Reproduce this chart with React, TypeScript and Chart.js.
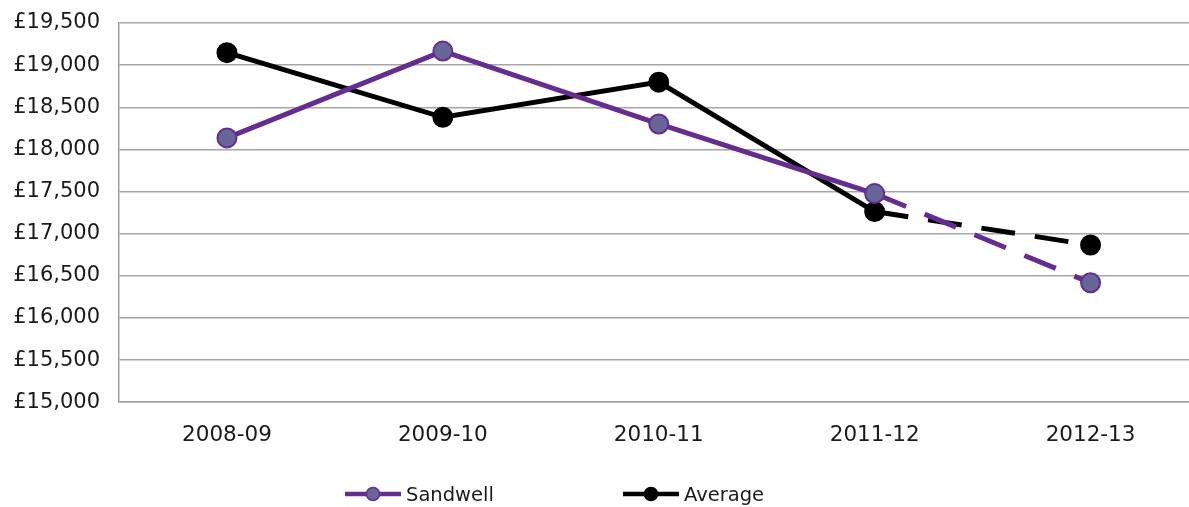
import React, { useEffect, useRef } from "react";
import { Chart, registerables } from "chart.js";

Chart.register(...registerables);

const categories = ["2008-09", "2009-10", "2010-11", "2011-12", "2012-13"];
const sandwell = [18136, 19167, 18302, 17476, 16417];
const average = [19148, 18381, 18798, 17262, 16865];
const yMin = 15000;
const yMax = 19500;
const yStep = 500;

const PURPLE = "#662d91";
const PURPLE_FILL = "#666699";
const FONT = "'DejaVu Sans', Verdana, sans-serif";

const legendPlugin = {
  id: "customLegend",
  afterDraw(chart: any) {
    const ctx = chart.ctx;
    const items = [
      { x: 345, text: "Sandwell", line: PURPLE, fill: PURPLE_FILL, border: PURPLE },
      { x: 623, text: "Average", line: "#000000", fill: "#000000", border: "#000000" },
    ];
    const y = 494;
    ctx.save();
    items.forEach((it) => {
      ctx.beginPath();
      ctx.strokeStyle = it.line;
      ctx.lineWidth = 4.5;
      ctx.moveTo(it.x, y);
      ctx.lineTo(it.x + 56, y);
      ctx.stroke();
      ctx.beginPath();
      ctx.arc(it.x + 28, y, 6.5, 0, Math.PI * 2);
      ctx.fillStyle = it.fill;
      ctx.fill();
      ctx.lineWidth = 1.5;
      ctx.strokeStyle = it.border;
      ctx.stroke();
      ctx.fillStyle = "#1a1a1a";
      ctx.font = `19.5px ${FONT}`;
      ctx.textBaseline = "middle";
      ctx.textAlign = "left";
      ctx.fillText(it.text, it.x + 61, y + 2);
    });
    ctx.restore();
  },
};

export default function App() {
  const ref = useRef<HTMLCanvasElement | null>(null);

  useEffect(() => {
    if (!ref.current) return;
    const dashLast = (ctx: any) => (ctx.p0DataIndex === 3 ? [34, 20] : undefined);
    const chart = new Chart(ref.current, {
      type: "line",
      data: {
        labels: categories,
        datasets: [
          {
            label: "Sandwell",
            data: sandwell,
            borderColor: PURPLE,
            backgroundColor: PURPLE_FILL,
            borderWidth: 5,
            pointRadius: 9.5,
            pointBorderWidth: 2,
            pointBackgroundColor: PURPLE_FILL,
            pointBorderColor: PURPLE,
            tension: 0,
            segment: { borderDash: dashLast },
          },
          {
            label: "Average",
            data: average,
            borderColor: "#000000",
            backgroundColor: "#000000",
            borderWidth: 5,
            pointRadius: 9.5,
            pointBorderWidth: 2,
            pointBackgroundColor: "#000000",
            pointBorderColor: "#000000",
            tension: 0,
            segment: { borderDash: dashLast },
          },
        ],
      },
      options: {
        animation: false,
        responsive: false,
        layout: { padding: { top: 23, right: 1, bottom: 39, left: 0 } },
        plugins: {
          legend: { display: false },
          tooltip: { enabled: false },
        },
        scales: {
          x: {
            type: "category",
            offset: true,
            grid: { display: false, drawTicks: false },
            border: { display: true, color: "#a0a0a0", width: 1.5 },
            ticks: {
              padding: 20,
              color: "#1a1a1a",
              font: { family: FONT, size: 21.5 },
              maxRotation: 0,
            },
          },
          y: {
            min: yMin,
            max: yMax,
            grid: { color: "#a6a6a6", lineWidth: 1.5, drawTicks: false },
            border: { display: true, color: "#a0a0a0", width: 1.5 },
            afterFit: (scale: any) => {
              scale.width = 119;
              scale.paddingTop = 0;
              scale.paddingBottom = 0;
            },
            ticks: {
              stepSize: yStep,
              padding: 19,
              color: "#1a1a1a",
              font: { family: FONT, size: 21 },
              callback: (v: any) => "£" + Number(v).toLocaleString("en-GB"),
            },
          },
        },
      },
      plugins: [legendPlugin],
    });
    return () => chart.destroy();
  }, []);

  return (
    <div
      style={{
        position: "fixed",
        left: 0,
        top: 0,
        width: 1189,
        height: 507,
        overflow: "hidden",
        background: "#ffffff",
      }}
    >
      <canvas ref={ref} width={1210} height={507} style={{ width: 1210, height: 507, display: "block" }} />
    </div>
  );
}
